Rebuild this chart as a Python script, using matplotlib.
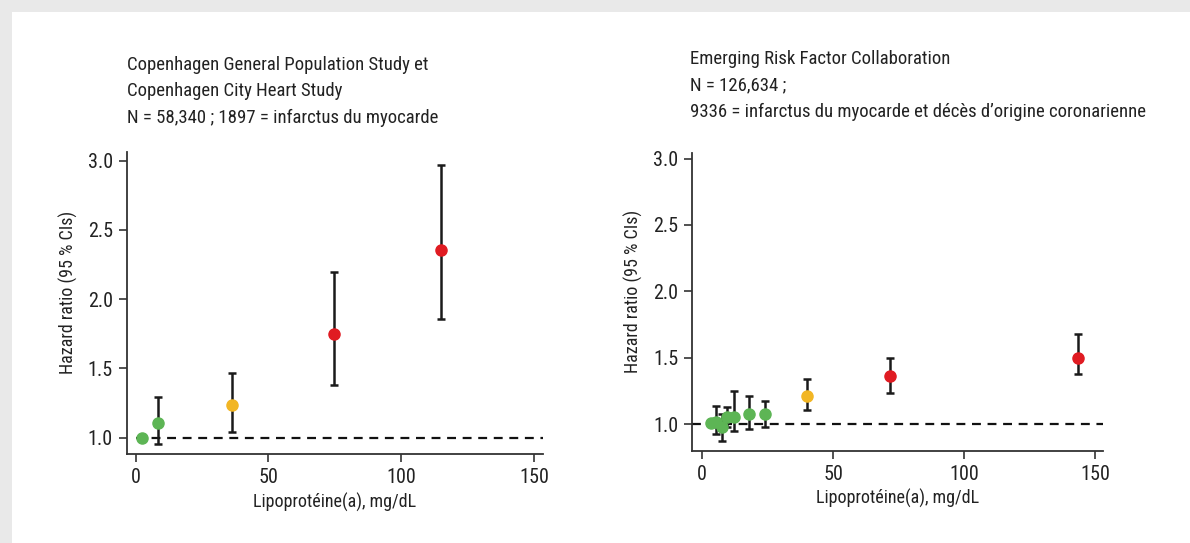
import matplotlib.pyplot as plt
from matplotlib.patches import Rectangle

plt.rcParams['font.family'] = ['Roboto Condensed', 'Archivo Narrow', 'DejaVu Sans']

# Copenhagen studies
cph_x = [2.3, 8.4, 36.3, 74.7, 114.9]
cph_hr = [1.00, 1.108, 1.236, 1.747, 2.355]
cph_lo = [1.00, 0.952, 1.039, 1.381, 1.855]
cph_hi = [1.00, 1.296, 1.465, 2.199, 2.969]
cph_col = ['green', 'green', 'yellow', 'red', 'red']

# Emerging Risk Factor Collaboration
erfc_x = [3.3, 5.2, 7.4, 9.3, 12.2, 17.8, 24.0, 39.9, 71.7, 143.6]
erfc_hr = [1.005, 1.017, 0.98, 1.05, 1.05, 1.08, 1.075, 1.21, 1.364, 1.495]
erfc_lo = [1.005, 0.925, 0.872, 0.98, 0.95, 0.96, 0.98, 1.11, 1.238, 1.376]
erfc_hi = [1.005, 1.138, 1.075, 1.13, 1.25, 1.21, 1.175, 1.34, 1.497, 1.68]
erfc_col = ['green'] * 7 + ['yellow', 'red', 'red']

colors = {'green': '#5db555', 'yellow': '#f2b624', 'red': '#e01b22'}

titles = [
    "Copenhagen General Population Study et\nCopenhagen City Heart Study\n"
    "N = 58,340 ; 1897 = infarctus du myocarde",
    "Emerging Risk Factor Collaboration\nN = 126,634 ;\n"
    "9336 = infarctus du myocarde et décès d’origine coronarienne",
]

fig = plt.figure(figsize=(11.9, 5.43), dpi=100)
fig.patch.set_facecolor('#e9e9e9')
fig.patches.append(Rectangle((12 / 1190, 0), 1, 1 - 12 / 543, transform=fig.transFigure,
                             facecolor='white', edgecolor='none', zorder=-5))

ax1 = fig.add_axes([0.1065, 0.1639, 0.350, 0.5567])
ax2 = fig.add_axes([0.5818, 0.170, 0.3454, 0.5477])

# axes, data, ylim, xlim, title x / last baseline (px), dashed line start
panels = [
    (ax1, cph_x, cph_hr, cph_lo, cph_hi, cph_col, (0.882, 3.065), (-3.4, 153.5), 127, 123, 0),
    (ax2, erfc_x, erfc_hr, erfc_lo, erfc_hi, erfc_col, (0.80, 3.04), (-3.8, 153.2), 690, 117, -3.8),
]

for k, (ax, x, hr, lo, hi, col, ylim, xlim, tx, ty, d0) in enumerate(panels):
    ax.set_facecolor('none')
    ax.hlines(1.0, d0, xlim[1], color='#111111', lw=1.6, ls=(0, (4, 3)), zorder=1)
    for xi, h, l, u, c in zip(x, hr, lo, hi, col):
        if u - l > 0.01:
            ax.errorbar(xi, h, yerr=[[h - l], [u - h]], fmt='none', ecolor='#1a1a1a',
                        elinewidth=1.8, capsize=2.8, capthick=1.8, zorder=2)
        ax.plot(xi, h, 'o', color=colors[c], markersize=8, zorder=3)
    ax.set_xlim(*xlim)
    ax.set_ylim(*ylim)
    ax.set_xticks([0, 50, 100, 150])
    ax.set_yticks([1.0, 1.5, 2.0, 2.5, 3.0])
    ax.set_yticklabels(['1.0', '1.5', '2.0', '2.5', '3.0'])
    for s in ['top', 'right']:
        ax.spines[s].set_visible(False)
    for s in ['left', 'bottom']:
        ax.spines[s].set_color('#333333')
        ax.spines[s].set_linewidth(1.3)
    ax.tick_params(direction='out', length=6, width=1.2, color='#333333',
                   labelsize=14.5, labelcolor='#222222', pad=4)
    ax.set_xlabel('Lipoprotéine(a), mg/dL', fontsize=13, color='#222222', labelpad=4)
    ax.set_ylabel('Hazard ratio (95 % CIs)', fontsize=13, color='#222222', labelpad=7)
    ax.yaxis.label.set_y(0.535)
    fig.text(tx / 1190, 1 - ty / 543, titles[k], fontsize=13.5, color='#222222',
             ha='left', va='baseline', linespacing=1.6)

fig.savefig('out.png', dpi=100, facecolor=fig.get_facecolor())
